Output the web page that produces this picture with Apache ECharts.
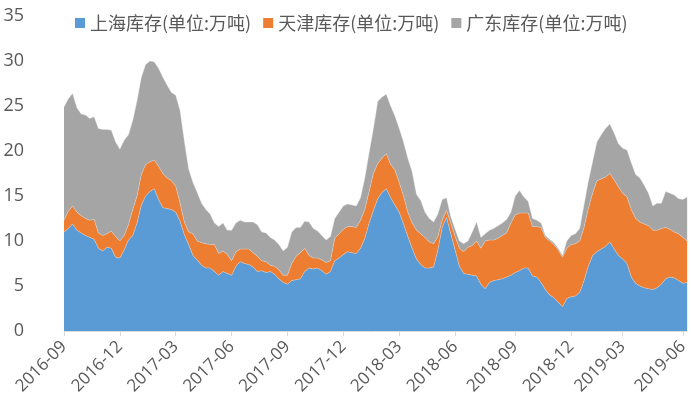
<!DOCTYPE html>
<html>
<head>
<meta charset="utf-8">
<script src="https://cdn.jsdelivr.net/npm/echarts@6/dist/echarts.min.js"></script>
<style>
  html, body { margin: 0; padding: 0; background: #fff; }
  #chart { width: 691px; height: 404px; }
</style>
</head>
<body>
<div id="chart"></div>
<script>
// 周度数据, 2016-09-02 起每周五一个点
var startDate = '2016-09-02';
var weekCount = 146;

// x 轴刻度标签 (每季度)
var tickLabels = ['2016-09', '2016-12', '2017-03', '2017-06', '2017-09', '2017-12',
                  '2018-03', '2018-06', '2018-09', '2018-12', '2019-03', '2019-06'];

// 上海库存 (万吨)
var shanghai = [
  11.0, 11.4, 11.9, 11.2, 10.9, 10.6, 10.4, 10.2, 9.2, 8.9,
  9.3, 9.2, 8.2, 8.1, 9.0, 10.1, 10.6, 12.0, 14.0, 15.0,
  15.5, 15.8, 14.6, 13.7, 13.6, 13.5, 13.2, 12.2, 10.7, 9.6,
  8.4, 7.9, 7.3, 7.0, 7.0, 6.6, 6.2, 6.6, 6.4, 6.2,
  7.2, 7.7, 7.5, 7.4, 7.1, 6.6, 6.7, 6.5, 6.6, 6.3,
  5.8, 5.4, 5.2, 5.6, 5.7, 5.8, 6.6, 7.0, 6.9, 7.0,
  6.7, 6.3, 6.6, 7.8, 8.1, 8.5, 8.8, 8.7, 8.6, 9.2,
  10.3, 12.0, 13.4, 14.7, 15.4, 15.8, 14.8, 14.0, 13.2, 11.9,
  10.5, 9.2, 8.0, 7.4, 7.0, 7.0, 7.1, 9.0, 11.5, 12.6,
  10.8, 9.0, 7.2, 6.4, 6.3, 6.2, 6.1, 5.2, 4.7, 5.4,
  5.6, 5.7, 5.8, 6.0, 6.2, 6.5, 6.7, 7.0, 7.0, 6.1,
  6.0, 5.4, 4.6, 4.0, 3.7, 3.2, 2.7, 3.6, 3.8, 3.9,
  4.3, 5.6, 7.2, 8.4, 8.8, 9.1, 9.4, 9.9, 9.1, 8.4,
  8.0, 7.5, 6.0, 5.3, 5.0, 4.8, 4.7, 4.6, 4.8, 5.2,
  5.8, 6.0, 5.9, 5.6, 5.3, 5.4
];

// 天津库存 (万吨)
var tianjin = [
  1.3, 1.9, 2.0, 2.0, 1.9, 1.9, 1.9, 2.2, 1.7, 1.7,
  1.5, 1.9, 2.3, 1.9, 1.6, 1.7, 2.9, 3.0, 3.4, 3.5,
  3.3, 3.2, 3.7, 3.8, 3.4, 3.2, 2.9, 2.0, 1.4, 1.4,
  2.4, 2.1, 2.5, 2.7, 2.6, 3.0, 2.4, 2.3, 2.1, 1.6,
  1.6, 1.4, 1.6, 1.7, 1.6, 1.7, 1.1, 1.2, 0.7, 0.9,
  1.0, 0.8, 1.0, 1.9, 2.6, 2.9, 2.6, 1.4, 1.2, 1.1,
  1.2, 1.3, 1.2, 2.5, 2.7, 2.8, 2.8, 2.9, 2.9, 3.1,
  3.2, 3.5, 4.1, 3.9, 3.8, 3.9, 3.7, 3.9, 3.3, 3.1,
  2.7, 2.8, 3.2, 3.4, 3.4, 2.9, 2.6, 1.5, 0.8, 0.8,
  1.2, 1.5, 2.0, 2.4, 3.0, 3.3, 3.9, 4.0, 5.3, 4.7,
  4.5, 4.6, 4.8, 4.9, 5.8, 6.4, 6.4, 6.1, 6.1, 5.5,
  5.6, 6.1, 5.8, 6.0, 5.9, 5.8, 5.5, 5.6, 5.8, 5.8,
  5.7, 5.9, 6.4, 6.9, 7.9, 7.8, 7.7, 7.6, 7.7, 7.6,
  7.3, 7.4, 7.5, 7.2, 7.1, 7.1, 7.0, 6.6, 6.4, 6.2,
  5.7, 5.3, 5.1, 5.2, 5.1, 4.6
];

// 广东库存 (万吨)
var guangdong = [
  12.6, 12.5, 12.5, 11.6, 11.3, 11.5, 11.3, 11.4, 11.6, 11.8,
  11.6, 11.2, 10.5, 10.2, 10.6, 10.0, 9.9, 10.6, 10.8, 11.1,
  11.2, 10.9, 10.9, 10.7, 10.3, 9.8, 10.1, 10.3, 9.0, 7.0,
  5.7, 5.4, 4.4, 3.8, 3.4, 2.4, 3.0, 3.1, 2.7, 3.4,
  3.2, 3.2, 3.0, 3.0, 3.4, 3.5, 3.2, 3.2, 3.1, 2.9,
  2.8, 2.7, 3.1, 3.5, 3.2, 2.8, 3.0, 3.7, 3.3, 3.0,
  2.7, 2.5, 2.7, 2.2, 2.4, 2.6, 2.5, 2.4, 2.4, 2.5,
  3.5, 4.3, 5.0, 6.9, 6.8, 6.6, 6.5, 6.0, 6.0, 6.0,
  6.0, 5.7, 4.0, 3.7, 2.8, 2.6, 2.4, 2.5, 2.3, 1.4,
  0.7, 0.8, 0.8, 0.9, 0.7, 1.5, 2.1, 1.2, 0.8, 1.1,
  1.3, 1.4, 1.4, 1.5, 1.2, 2.1, 2.5, 1.8, 1.3, 0.9,
  0.7, 0.5, 0.2, 0.2, 0.2, 0.2, 0.2, 0.8, 1.0, 1.1,
  1.4, 2.5, 3.0, 3.5, 4.3, 4.9, 5.4, 5.5, 5.2, 4.8,
  5.0, 5.2, 5.2, 4.9, 4.9, 4.3, 3.6, 2.7, 3.0, 2.8,
  4.0, 4.0, 4.1, 3.9, 4.2, 4.9
];

// 生成每周日期
var dates = [];
var d0 = new Date(startDate + 'T00:00:00Z');
for (var i = 0; i < weekCount; i++) {
  var d = new Date(d0.getTime() + i * 7 * 86400000);
  dates.push(d.toISOString().slice(0, 10));
}

// 每个刻度月份的第一周显示标签
var shown = {};
dates.forEach(function (v, idx) {
  var m = v.slice(0, 7);
  if (tickLabels.indexOf(m) >= 0 && !(m in shown)) shown[m] = idx;
});
function isTick(idx, v) {
  return shown[v.slice(0, 7)] === idx;
}

var textColor = '#595959';
var axisFont = 'Open Sans, DejaVu Sans, sans-serif';

function areaSeries(name, data, color) {
  return {
    name: name,
    type: 'line',
    stack: 'total',
    data: data,
    symbol: 'none',
    lineStyle: { width: 0.6, color: '#e8e8e8', opacity: 0.6 },
    areaStyle: { color: color, opacity: 1 },
    itemStyle: { color: color }
  };
}

var myChart = echarts.init(document.getElementById('chart'));
var options = {
  animation: false,
  legend: {
    top: 9,
    left: 70,
    itemWidth: 10,
    itemHeight: 10,
    itemGap: 12,
    icon: 'rect',
    textStyle: { color: textColor, fontSize: 18, fontFamily: '"Noto Sans CJK SC", sans-serif' },
    data: ['上海库存(单位:万吨)', '天津库存(单位:万吨)', '广东库存(单位:万吨)']
  },
  grid: { left: 64, right: 0, top: 16, bottom: 73 },
  xAxis: {
    type: 'category',
    boundaryGap: false,
    data: dates,
    axisLine: { lineStyle: { color: '#d9d9d9', width: 1 } },
    axisTick: { show: true, interval: isTick, length: 5, lineStyle: { color: '#d9d9d9' } },
    axisLabel: {
      interval: isTick,
      rotate: 45,
      margin: 13,
      color: textColor,
      fontSize: 17,
      fontFamily: axisFont,
      formatter: function (v) { return v.slice(0, 7); }
    },
    splitLine: { show: false }
  },
  yAxis: {
    type: 'value',
    min: 0,
    max: 35,
    interval: 5,
    axisLine: { show: false },
    axisTick: { show: false },
    splitLine: { show: false },
    axisLabel: { color: textColor, fontSize: 18, fontFamily: axisFont, margin: 40 }
  },
  series: [
    areaSeries('上海库存(单位:万吨)', shanghai, '#5b9bd5'),
    areaSeries('天津库存(单位:万吨)', tianjin, '#ed7d31'),
    areaSeries('广东库存(单位:万吨)', guangdong, '#a5a5a5')
  ]
};
myChart.setOption(options);
</script>
</body>
</html>
